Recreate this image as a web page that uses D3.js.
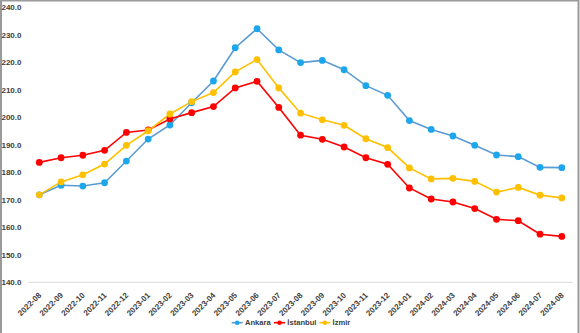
<!DOCTYPE html>
<html><head><meta charset="utf-8">
<script src="https://cdn.jsdelivr.net/npm/d3@7"></script>
<style>
html,body{margin:0;padding:0;background:#fff;}
svg{display:block;}
text{font-family:"Liberation Sans Narrow","Liberation Sans",Arial,sans-serif;}
</style></head>
<body>
<svg id="chart" width="580" height="333"></svg>
<script>
const months = ["2022-08","2022-09","2022-10","2022-11","2022-12","2023-01","2023-02","2023-03","2023-04","2023-05","2023-06","2023-07","2023-08","2023-09","2023-10","2023-11","2023-12","2024-01","2024-02","2024-03","2024-04","2024-05","2024-06","2024-07","2024-08"];
const ankara = [171.8,175.3,175.0,176.2,184.1,192.1,197.2,205.3,213.2,225.3,232.2,224.5,219.9,220.7,217.3,211.5,208.0,198.8,195.6,193.2,189.8,186.3,185.7,181.8,181.7];
const istanbul = [183.6,185.3,186.2,188.0,194.5,195.4,199.4,201.7,203.9,210.7,213.1,203.6,193.5,192.0,189.2,185.3,182.9,174.3,170.3,169.2,166.8,162.9,162.4,157.5,156.7];
const izmir = [171.8,176.5,179.1,183.0,189.8,195.1,201.2,205.7,209.0,216.5,221.0,210.7,201.5,199.1,197.1,192.2,189.0,181.6,177.6,177.8,176.7,172.8,174.5,171.7,170.7];
const yTicks = [140,150,160,170,180,190,200,210,220,230,240];
const seriesNames = ["Ankara","İstanbul","İzmir"];

const series = [
  {name: seriesNames[0], values: ankara, line: "#5b9bd5", dot: "#1ca7ec"},
  {name: seriesNames[1], values: istanbul, line: "#ff0000", dot: "#ff0000"},
  {name: seriesNames[2], values: izmir, line: "#ffc000", dot: "#ffc000"}
];

const svg = d3.select("#chart");
const FONT = "'Liberation Sans Narrow','Liberation Sans',Arial,sans-serif";

// outer border
svg.append("rect").attr("x",1).attr("y",0.5).attr("width",577.5).attr("height",340)
  .attr("fill","none").attr("stroke","#9a9a9a").attr("stroke-width",2);

const x = d3.scaleBand().domain(months).range([28.4, 572.7]);
const y = d3.scaleLinear().domain([140,240]).range([282.3, 7.3]);

// baseline
svg.append("line").attr("x1",28.4).attr("x2",572.7).attr("y1",y(140)).attr("y2",y(140))
  .attr("stroke","#d9d9d9").attr("stroke-width",1);

// y axis labels
const yAxis = d3.axisLeft(y).tickValues(yTicks).tickFormat(d3.format(".1f")).tickSize(0).tickPadding(0);
const gy = svg.append("g").attr("transform","translate(21.5,0)").call(yAxis);
gy.select(".domain").remove();
gy.selectAll("text").attr("fill","#404040").attr("font-size","8px").attr("font-weight","bold")
  .attr("font-family",FONT);

// x axis labels
const xAxis = d3.axisBottom(x).tickSize(0).tickPadding(0);
const gx = svg.append("g").attr("transform","translate(0,"+y(140)+")").call(xAxis);
gx.select(".domain").remove();
gx.selectAll("text")
  .attr("fill","#404040").attr("font-size","8px").attr("font-weight","bold")
  .attr("font-family",FONT)
  .attr("text-anchor","end")
  .attr("dy",null).attr("y",null)
  .attr("transform","translate(1,12) rotate(-45)")
  .attr("dominant-baseline","middle");

const cx = d => x(d) + x.bandwidth()/2;
const line = d3.line().x((d,i)=>cx(months[i])).y(d=>y(d));

series.forEach(s => {
  svg.append("path").datum(s.values).attr("d", line)
    .attr("fill","none").attr("stroke", s.line).attr("stroke-width",1.6);
});
series.forEach(s => {
  svg.append("g").selectAll("circle").data(s.values).join("circle")
    .attr("cx",(d,i)=>cx(months[i])).attr("cy",d=>y(d)).attr("r",3.4)
    .attr("fill", s.dot);
});

// legend
const legendX = [231.7, 274, 319.3];
const legendY = 322.7;
series.forEach((s,i) => {
  const g = svg.append("g").attr("transform",`translate(${legendX[i]},${legendY})`);
  g.append("line").attr("x1",0).attr("x2",11).attr("y1",0).attr("y2",0)
    .attr("stroke", s.line).attr("stroke-width",1.6);
  g.append("circle").attr("cx",5.5).attr("cy",0).attr("r",2.3).attr("fill", s.dot);
  g.append("text").attr("x",13.3).attr("y",0).attr("dominant-baseline","central")
    .attr("font-size","7.6px").attr("font-weight","bold").attr("fill","#404040")
    .text(s.name);
});
</script>
</body></html>
